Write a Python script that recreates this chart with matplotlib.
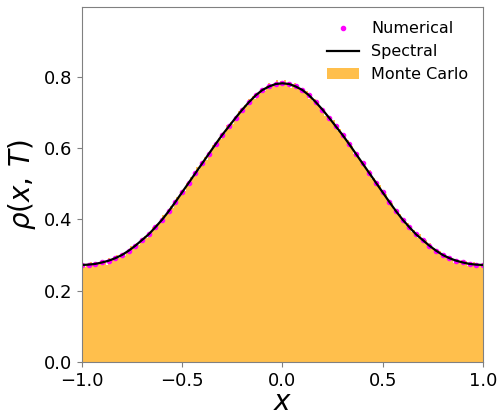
import numpy as np
import matplotlib
matplotlib.use("Agg")
import matplotlib.pyplot as plt

# Numerical solution (dots), 61 points on [-1, 1]
num_x = np.linspace(-1.0, 1.0, 61)
num_half = [0.782, 0.780, 0.773, 0.763, 0.748, 0.729, 0.708, 0.685, 0.661, 0.637,
            0.611, 0.584, 0.557, 0.530, 0.503, 0.476, 0.449, 0.423, 0.399, 0.378,
            0.358, 0.342, 0.326, 0.312, 0.300, 0.291, 0.284, 0.279, 0.275, 0.273,
            0.272]
numerical = num_half[::-1] + num_half[1:]

# Spectral solution (line)
spec_x = np.linspace(-1.0, 1.0, 61)
spec_half = [0.782, 0.780, 0.773, 0.763, 0.748, 0.729, 0.708, 0.685, 0.661, 0.637,
             0.611, 0.584, 0.557, 0.530, 0.503, 0.476, 0.449, 0.423, 0.399, 0.378,
             0.358, 0.342, 0.326, 0.312, 0.300, 0.291, 0.284, 0.279, 0.275, 0.273,
             0.272]
spectral = spec_half[::-1] + spec_half[1:]

# Monte Carlo histogram (200 bins on [-1, 1]), bin heights
mc_heights = [
    0.275, 0.267, 0.273, 0.265, 0.279, 0.272, 0.279, 0.269, 0.277, 0.283,
    0.275, 0.283, 0.273, 0.291, 0.285, 0.291, 0.284, 0.301, 0.292, 0.299,
    0.307, 0.298, 0.311, 0.309, 0.326, 0.319, 0.321, 0.333, 0.327, 0.345,
    0.343, 0.353, 0.348, 0.362, 0.355, 0.378, 0.374, 0.388, 0.387, 0.389,
    0.411, 0.407, 0.419, 0.419, 0.437, 0.431, 0.450, 0.462, 0.460, 0.471,
    0.483, 0.480, 0.501, 0.502, 0.519, 0.515, 0.528, 0.546, 0.539, 0.555,
    0.557, 0.575, 0.568, 0.588, 0.591, 0.609, 0.604, 0.618, 0.629, 0.626,
    0.642, 0.642, 0.665, 0.659, 0.674, 0.668, 0.684, 0.686, 0.704, 0.702,
    0.706, 0.720, 0.717, 0.739, 0.735, 0.746, 0.739, 0.754, 0.754, 0.767,
    0.769, 0.759, 0.773, 0.782, 0.771, 0.779, 0.773, 0.792, 0.779, 0.788,
    0.776, 0.791, 0.779, 0.785, 0.770, 0.779, 0.784, 0.767, 0.769, 0.758,
    0.767, 0.754, 0.760, 0.738, 0.744, 0.731, 0.737, 0.723, 0.721, 0.705,
    0.707, 0.689, 0.691, 0.689, 0.672, 0.678, 0.660, 0.648, 0.653, 0.637,
    0.628, 0.627, 0.624, 0.603, 0.605, 0.584, 0.586, 0.585, 0.566, 0.563,
    0.559, 0.541, 0.536, 0.538, 0.513, 0.515, 0.499, 0.498, 0.496, 0.478,
    0.469, 0.471, 0.450, 0.449, 0.445, 0.425, 0.429, 0.416, 0.416, 0.394,
    0.398, 0.384, 0.391, 0.374, 0.364, 0.369, 0.361, 0.348, 0.358, 0.343,
    0.335, 0.341, 0.328, 0.334, 0.316, 0.320, 0.304, 0.311, 0.310, 0.299,
    0.305, 0.294, 0.287, 0.294, 0.290, 0.278, 0.289, 0.279, 0.282, 0.285,
    0.276, 0.282, 0.269, 0.278, 0.270, 0.281, 0.272, 0.267, 0.274, 0.269,
]
mc_edges = np.linspace(-1.0, 1.0, len(mc_heights) + 1)
mc_centers = 0.5 * (mc_edges[:-1] + mc_edges[1:])

xticks = [-1.0, -0.5, 0.0, 0.5, 1.0]
yticks = [0.0, 0.2, 0.4, 0.6, 0.8]

fig = plt.figure(figsize=(5.02, 4.15), dpi=100)
ax = fig.add_axes([0.163, 0.128, 0.799, 0.855])

ax.hist(mc_centers, bins=mc_edges, weights=mc_heights, color="orange",
        alpha=0.7, label="Monte Carlo")
ax.plot(num_x, numerical, linestyle="none", marker="o", color="magenta",
        markersize=3.0, label="Numerical")
ax.plot(spec_x, spectral, color="black", linewidth=1.6, label="Spectral")

ax.set_xlim(-1.0, 1.0)
ax.set_ylim(0.0, 0.996)
ax.set_xticks(xticks)
ax.set_yticks(yticks)
ax.tick_params(labelsize=13, color="gray")
for s in ax.spines.values():
    s.set_color("gray")

ax.set_xlabel(r"$x$", fontsize=20, labelpad=-1)
ax.set_ylabel(r"$\rho(x,\,T)$", fontsize=20)

handles, labels = ax.get_legend_handles_labels()
order = [labels.index("Numerical"), labels.index("Spectral"), labels.index("Monte Carlo")]
ax.legend([handles[i] for i in order], [labels[i] for i in order],
          loc="upper right", frameon=False, fontsize=11.5)

fig.savefig("out.png", dpi=100)
